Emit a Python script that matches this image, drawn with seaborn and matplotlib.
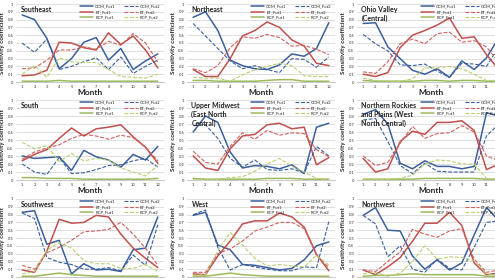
import matplotlib
matplotlib.use("Agg")
import matplotlib.pyplot as plt
import seaborn as sns

# ---- Data: sensitivity coefficients by month, per region ----
months = list(range(1, 13))
series_names = ["GCM_Fut1", "ET_Fut1", "RCP_Fut1", "GCM_Fut2", "ET_Fut2", "RCP_Fut2"]

southeast = {
    "GCM_Fut1": [0.86, 0.80, 0.56, 0.17, 0.30, 0.51, 0.57, 0.28, 0.43, 0.16, 0.27, 0.36],
    "GCM_Fut2": [0.50, 0.38, 0.55, 0.16, 0.20, 0.26, 0.31, 0.16, 0.32, 0.11, 0.20, 0.28],
    "ET_Fut1":  [0.08, 0.09, 0.15, 0.51, 0.50, 0.44, 0.41, 0.63, 0.48, 0.59, 0.41, 0.18],
    "ET_Fut2":  [0.17, 0.18, 0.28, 0.41, 0.41, 0.45, 0.42, 0.52, 0.47, 0.62, 0.50, 0.26],
    "RCP_Fut1": [0.01, 0.01, 0.01, 0.02, 0.01, 0.01, 0.01, 0.01, 0.01, 0.01, 0.01, 0.01],
    "RCP_Fut2": [0.10, 0.21, 0.06, 0.31, 0.26, 0.25, 0.25, 0.16, 0.07, 0.06, 0.05, 0.10],
}
northeast = {
    "GCM_Fut1": [0.83, 0.90, 0.66, 0.28, 0.21, 0.17, 0.16, 0.22, 0.36, 0.33, 0.43, 0.76],
    "GCM_Fut2": [0.75, 0.59, 0.43, 0.27, 0.17, 0.21, 0.16, 0.12, 0.30, 0.29, 0.19, 0.32],
    "ET_Fut1":  [0.16, 0.07, 0.07, 0.30, 0.59, 0.66, 0.77, 0.70, 0.54, 0.46, 0.24, 0.21],
    "ET_Fut2":  [0.17, 0.12, 0.21, 0.44, 0.58, 0.56, 0.61, 0.57, 0.46, 0.47, 0.42, 0.35],
    "RCP_Fut1": [0.02, 0.02, 0.01, 0.01, 0.01, 0.01, 0.02, 0.03, 0.03, 0.01, 0.01, 0.01],
    "RCP_Fut2": [0.06, 0.05, 0.05, 0.01, 0.09, 0.16, 0.20, 0.24, 0.21, 0.08, 0.07, 0.07],
}
ohio_valley = {
    "GCM_Fut1": [0.75, 0.76, 0.45, 0.30, 0.15, 0.10, 0.17, 0.06, 0.27, 0.16, 0.31, 0.57],
    "GCM_Fut2": [0.61, 0.49, 0.40, 0.22, 0.21, 0.23, 0.14, 0.06, 0.24, 0.23, 0.20, 0.45],
    "ET_Fut1":  [0.10, 0.07, 0.12, 0.44, 0.60, 0.66, 0.73, 0.82, 0.56, 0.58, 0.35, 0.16],
    "ET_Fut2":  [0.13, 0.11, 0.26, 0.49, 0.55, 0.49, 0.62, 0.64, 0.51, 0.53, 0.45, 0.25],
    "RCP_Fut1": [0.02, 0.01, 0.01, 0.01, 0.01, 0.02, 0.02, 0.01, 0.02, 0.02, 0.01, 0.01],
    "RCP_Fut2": [0.05, 0.02, 0.01, 0.01, 0.04, 0.18, 0.18, 0.20, 0.17, 0.10, 0.02, 0.02],
}
south = {
    "GCM_Fut1": [0.30, 0.27, 0.28, 0.29, 0.12, 0.37, 0.29, 0.25, 0.16, 0.32, 0.25, 0.42],
    "GCM_Fut2": [0.20, 0.10, 0.07, 0.28, 0.08, 0.09, 0.13, 0.18, 0.19, 0.24, 0.27, 0.16],
    "ET_Fut1":  [0.24, 0.32, 0.38, 0.52, 0.65, 0.55, 0.64, 0.66, 0.69, 0.54, 0.41, 0.21],
    "ET_Fut2":  [0.26, 0.35, 0.40, 0.44, 0.52, 0.57, 0.55, 0.51, 0.56, 0.53, 0.41, 0.24],
    "RCP_Fut1": [0.03, 0.03, 0.02, 0.02, 0.02, 0.01, 0.01, 0.01, 0.01, 0.01, 0.01, 0.02],
    "RCP_Fut2": [0.47, 0.39, 0.43, 0.23, 0.33, 0.24, 0.27, 0.25, 0.15, 0.10, 0.05, 0.18],
}
upper_midwest = {
    "GCM_Fut1": [0.60, 0.80, 0.72, 0.35, 0.15, 0.18, 0.17, 0.14, 0.19, 0.08, 0.66, 0.71],
    "GCM_Fut2": [0.68, 0.69, 0.52, 0.27, 0.16, 0.25, 0.13, 0.12, 0.14, 0.09, 0.42, 0.30],
    "ET_Fut1":  [0.30, 0.15, 0.12, 0.39, 0.55, 0.57, 0.69, 0.71, 0.64, 0.66, 0.19, 0.28],
    "ET_Fut2":  [0.36, 0.22, 0.20, 0.42, 0.59, 0.51, 0.62, 0.56, 0.59, 0.58, 0.38, 0.29],
    "RCP_Fut1": [0.02, 0.01, 0.01, 0.01, 0.01, 0.01, 0.02, 0.02, 0.02, 0.01, 0.01, 0.01],
    "RCP_Fut2": [0.01, 0.00, 0.01, 0.03, 0.04, 0.11, 0.20, 0.27, 0.17, 0.10, 0.02, 0.01],
}
northern_rockies = {
    "GCM_Fut1": [0.82, 0.88, 0.70, 0.21, 0.14, 0.24, 0.17, 0.17, 0.14, 0.17, 0.84, 0.80],
    "GCM_Fut2": [0.75, 0.77, 0.48, 0.18, 0.08, 0.21, 0.11, 0.10, 0.10, 0.10, 0.55, 0.70],
    "ET_Fut1":  [0.27, 0.10, 0.14, 0.48, 0.61, 0.57, 0.72, 0.72, 0.74, 0.62, 0.13, 0.20],
    "ET_Fut2":  [0.30, 0.18, 0.22, 0.46, 0.67, 0.52, 0.58, 0.59, 0.68, 0.60, 0.30, 0.24],
    "RCP_Fut1": [0.01, 0.01, 0.01, 0.01, 0.01, 0.02, 0.02, 0.02, 0.02, 0.02, 0.01, 0.01],
    "RCP_Fut2": [0.01, 0.01, 0.01, 0.02, 0.06, 0.20, 0.25, 0.24, 0.20, 0.20, 0.02, 0.01],
}
southwest = {
    "GCM_Fut1": [0.83, 0.85, 0.42, 0.47, 0.04, 0.17, 0.09, 0.10, 0.07, 0.35, 0.37, 0.77],
    "GCM_Fut2": [0.82, 0.75, 0.25, 0.19, 0.16, 0.10, 0.10, 0.12, 0.08, 0.28, 0.15, 0.67],
    "ET_Fut1":  [0.09, 0.06, 0.33, 0.74, 0.69, 0.70, 0.79, 0.77, 0.55, 0.37, 0.24, 0.12],
    "ET_Fut2":  [0.15, 0.10, 0.31, 0.38, 0.47, 0.58, 0.59, 0.61, 0.70, 0.55, 0.37, 0.15],
    "RCP_Fut1": [0.01, 0.01, 0.03, 0.05, 0.03, 0.02, 0.01, 0.01, 0.01, 0.01, 0.01, 0.01],
    "RCP_Fut2": [0.04, 0.07, 0.34, 0.44, 0.37, 0.21, 0.17, 0.17, 0.11, 0.11, 0.16, 0.07],
}
west = {
    "GCM_Fut1": [0.79, 0.83, 0.41, 0.35, 0.16, 0.15, 0.12, 0.09, 0.11, 0.22, 0.40, 0.45],
    "GCM_Fut2": [0.80, 0.86, 0.38, 0.09, 0.16, 0.13, 0.10, 0.08, 0.08, 0.13, 0.12, 0.71],
    "ET_Fut1":  [0.04, 0.03, 0.27, 0.46, 0.68, 0.72, 0.72, 0.82, 0.77, 0.64, 0.29, 0.08],
    "ET_Fut2":  [0.06, 0.06, 0.30, 0.36, 0.46, 0.59, 0.64, 0.70, 0.70, 0.62, 0.28, 0.12],
    "RCP_Fut1": [0.01, 0.01, 0.03, 0.05, 0.03, 0.02, 0.01, 0.01, 0.01, 0.01, 0.01, 0.01],
    "RCP_Fut2": [0.02, 0.03, 0.34, 0.57, 0.41, 0.24, 0.14, 0.16, 0.14, 0.13, 0.28, 0.15],
}
northwest = {
    "GCM_Fut1": [0.79, 0.89, 0.60, 0.59, 0.27, 0.10, 0.22, 0.09, 0.18, 0.54, 0.89, 0.72],
    "GCM_Fut2": [0.79, 0.68, 0.26, 0.40, 0.10, 0.06, 0.23, 0.11, 0.09, 0.38, 0.70, 0.72],
    "ET_Fut1":  [0.09, 0.03, 0.13, 0.25, 0.46, 0.69, 0.69, 0.83, 0.66, 0.18, 0.03, 0.05],
    "ET_Fut2":  [0.09, 0.07, 0.20, 0.32, 0.61, 0.55, 0.51, 0.59, 0.62, 0.23, 0.06, 0.09],
    "RCP_Fut1": [0.01, 0.02, 0.02, 0.03, 0.04, 0.03, 0.03, 0.03, 0.03, 0.03, 0.01, 0.01],
    "RCP_Fut2": [0.04, 0.06, 0.01, 0.05, 0.20, 0.40, 0.23, 0.26, 0.25, 0.21, 0.04, 0.02],
}

regions = [
    ("Southeast", southeast),
    ("Northeast", northeast),
    ("Ohio Valley\n(Central)", ohio_valley),
    ("South", south),
    ("Upper Midwest\n(East North\nCentral)", upper_midwest),
    ("Northern Rockies\nand Plains (West\nNorth Central)", northern_rockies),
    ("Southwest", southwest),
    ("West", west),
    ("Northwest", northwest),
]

# ---- Styles ----
styles = {
    "GCM_Fut1": dict(color="#3B5F9C", ls="-", lw=1.1),
    "ET_Fut1":  dict(color="#C0504D", ls="-", lw=1.1),
    "RCP_Fut1": dict(color="#9BBB59", ls="-", lw=1.1),
    "GCM_Fut2": dict(color="#3B5F9C", ls=(0, (3.5, 1.5)), lw=0.8),
    "ET_Fut2":  dict(color="#D0605D", ls=(0, (3.5, 1.5)), lw=0.8),
    "RCP_Fut2": dict(color="#B9CF72", ls=(0, (3.5, 1.5)), lw=0.8),
}

sns.set_theme(style="white")
plt.rcParams["font.family"] = ["Lato", "DejaVu Sans"]

W, H = 495, 280
fig = plt.figure(figsize=(W / 100, H / 100), dpi=100)

# the source image is cropped on the right, so the third column runs past the edge
col_left = [16, 187, 357]
ax_w = 148
row_span = [(4, 82), (100, 180), (199, 277)]

for i, (name, data) in enumerate(regions):
    r, c = divmod(i, 3)
    top, bot = row_span[r]
    ax = fig.add_axes([col_left[c] / W, 1 - bot / H, ax_w / W, (bot - top) / H])

    for s in series_names:
        st = styles[s]
        sns.lineplot(x=months, y=data[s], ax=ax, color=st["color"],
                     linestyle=st["ls"], linewidth=st["lw"], label=s)

    ax.set_xlim(0.5, 12.5)
    ax.set_ylim(0, 1)
    ax.set_xticks(months)
    ax.set_yticks([k / 10 for k in range(11)])
    ax.set_yticklabels(["0"] + [f"{k/10:.1f}" for k in range(1, 10)] + ["1"])
    ax.tick_params(axis="both", labelsize=3, length=0, pad=2, colors="#333333")
    ax.yaxis.grid(True, color="#D9D9D9", lw=0.6)
    ax.set_axisbelow(True)
    for sp in ["top", "right", "left"]:
        ax.spines[sp].set_visible(False)
    ax.spines["bottom"].set_color("#BFBFBF")
    ax.spines["bottom"].set_linewidth(0.6)

    ax.set_xlabel("Month", fontsize=6, fontweight="bold", labelpad=0.5)
    ax.set_ylabel("Sensitivity coefficient", fontsize=4.6, fontweight="bold", labelpad=1.5)

    ax.text(0.03, 0.975, name, transform=ax.transAxes, ha="left", va="top",
            fontsize=5, fontweight="bold", color="#222222", linespacing=1.25)

    ax.legend(loc="upper left", bbox_to_anchor=(0.43, 0.99), ncol=2, frameon=False,
              fontsize=3.1, handlelength=3.1, handletextpad=0.5, columnspacing=2.0,
              labelspacing=0.35, borderaxespad=0, borderpad=0)

fig.savefig("out.png", dpi=100)
